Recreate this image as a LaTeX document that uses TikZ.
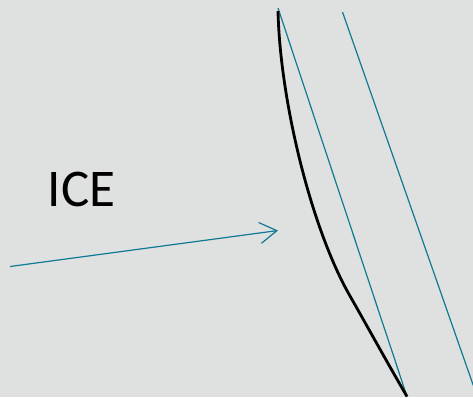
\documentclass[tikz,border=0pt]{standalone}
\usepackage{fontspec}
\setmainfont{Carlito}
\usetikzlibrary{arrows.meta}
\definecolor{slide}{RGB}{223,225,224}
\definecolor{teal}{RGB}{15,122,148}

\begin{document}
\begin{tikzpicture}[x=1bp, y=-1bp, >={Straight Barb[length=17bp, width=21bp]},
    rule/.style={teal, line width=1.2bp},
    blade/.style={black, line width=2.8bp}]
  \fill[slide] (0,0) rectangle (473,397);
  \useasboundingbox (0,0) rectangle (473,397);
  % named points of the lines
  \coordinate (tipa) at (278,8);
  \coordinate (tipb) at (407,396.5);
  \coordinate (topc) at (342.5,12);
  \coordinate (endc) at (473.5,386);
  \coordinate (flowa) at (10,266.5);
  \coordinate (flowb) at (278,230.5);
  \node[font=\fontsize{53bp}{60bp}\selectfont, inner sep=0pt, text=black] (ice) at (81.5,189) {ICE};
  % the two straight rules
  \draw[rule] (tipa) -- (tipb);
  \draw[rule] (topc) -- (endc);
  % curved profile
  \draw[blade] (278,11) .. controls (280,100) and (311,228) .. (350,296) .. controls (366,324) and (388,364) .. (tipb);
  % flow arrow
  \draw[rule, ->] (flowa) -- (flowb);
\end{tikzpicture}
\end{document}
